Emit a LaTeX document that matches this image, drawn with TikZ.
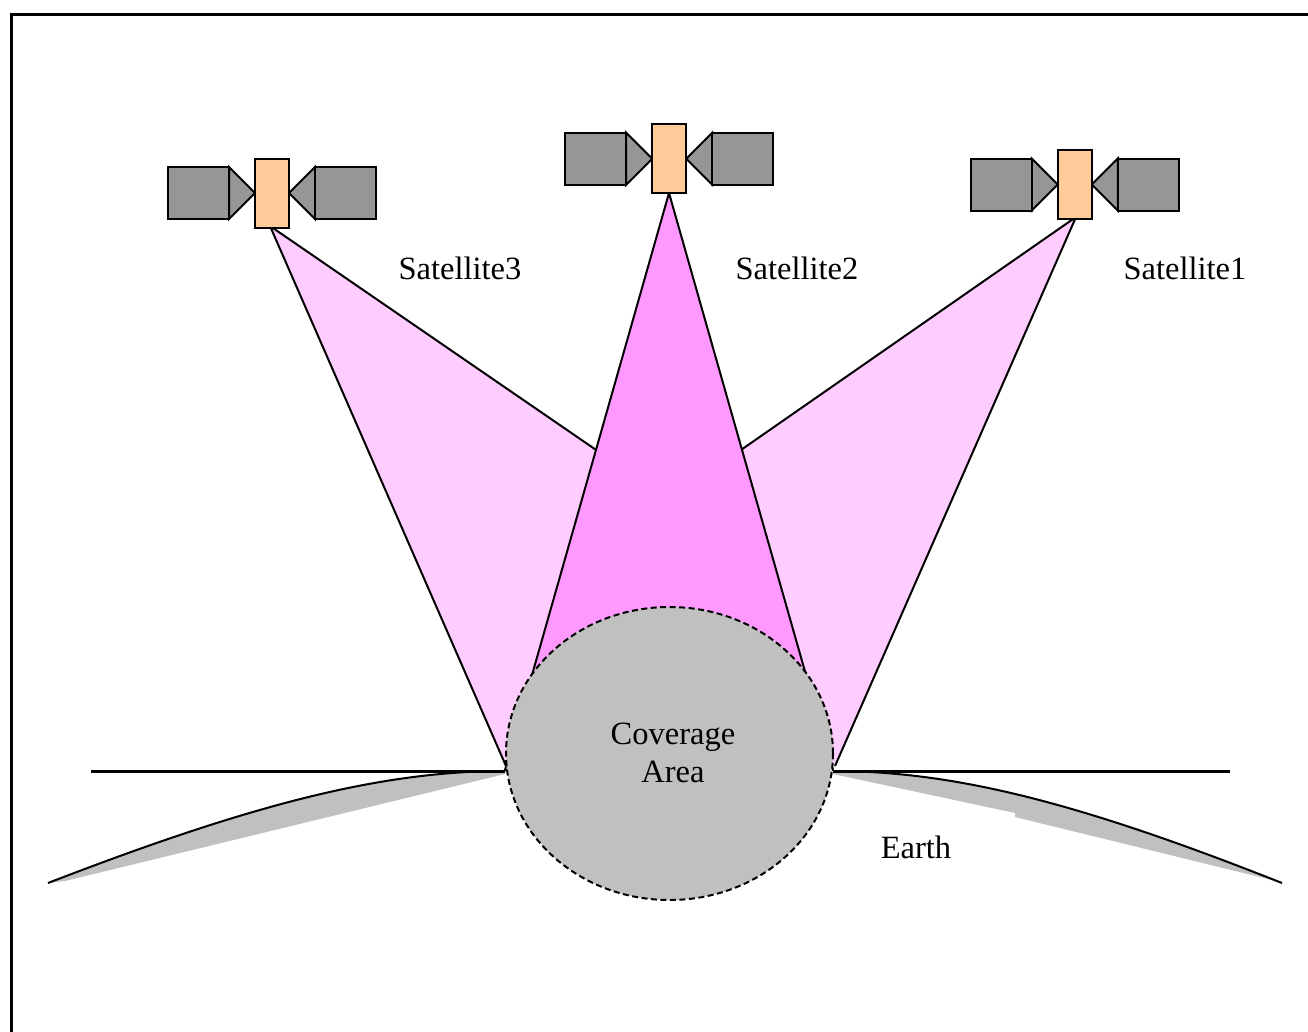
\documentclass[tikz,border=0pt]{standalone}
\usepackage{fontspec}
\setmainfont{Liberation Serif}
\usetikzlibrary{shapes.geometric}
\definecolor{beamlight}{HTML}{FFCCFF}
\definecolor{beammid}{HTML}{FF99FF}
\definecolor{busorange}{HTML}{FFCC99}
\definecolor{panelgray}{HTML}{969696}
\definecolor{groundgray}{HTML}{C0C0C0}

% one satellite: two solar panels with their mounts and the bus in the middle
\newcommand\drawsat[2]{%
  \coordinate (#1c) at #2;
  \draw[panel] ([shift={(-17,0)}]#1c) -- ++(-26,-26) -- ++(0,52) -- cycle;
  \draw[panel] ([shift={(-43,-26)}]#1c) rectangle ++(-61,52);
  \draw[panel] ([shift={(17,0)}]#1c) -- ++(26,-26) -- ++(0,52) -- cycle;
  \draw[panel] ([shift={(43,-26)}]#1c) rectangle ++(61,52);
  \node[bus] (#1) at (#1c) {};
}

\begin{document}
\begin{tikzpicture}[x=1pt,y=-1pt,
  outline/.style={draw=black,line width=2pt,line join=miter},
  bus/.style={outline,fill=busorange,minimum width=34pt,minimum height=69pt,inner sep=0pt},
  panel/.style={outline,fill=panelgray},
  beamedge/.style={draw=black,line width=2pt,line join=round},
  txt/.style={font=\fontsize{32.5}{38}\selectfont,inner sep=0pt},
  horizon/.style={draw=black,line width=3pt},
  curve/.style={draw=black,line width=2pt},
  ]
\useasboundingbox (0,0) rectangle (1308,1031);

% outer frame
\draw[line width=3.5pt] (11.3,14.7) rectangle (1340,1060);

% beam geometry
\coordinate (a3) at (270,226);
\coordinate (a2) at (669,193);
\coordinate (a1) at (1076,217);
\coordinate (l3) at (506,766);
\coordinate (r1) at (835,766);
\coordinate (m)  at (669,500);
\coordinate (l2) at (505,770);
\coordinate (r2) at (833,770);

% side beams
\fill[beamlight] (a3) -- (l3) -- (m) -- cycle;
\draw[beamedge] (l3) -- (a3) -- (m);
\fill[beamlight] (a1) -- (r1) -- (m) -- cycle;
\draw[beamedge] (r1) -- (a1) -- (m);
% central beam
\filldraw[fill=beammid,beamedge] (a2) -- (l2) -- (r2) -- cycle;

% earth surface, left
\coordinate (el0) at (48,883);
\coordinate (el1) at (505,771);
\fill[groundgray] (el0) .. controls (250,805) and (380,771) .. (el1) -- (505,774) -- (65,881) -- cycle;
\draw[curve] (el0) .. controls (250,805) and (380,771) .. (el1);
\coordinate (hl) at (91,771);
\draw[horizon] (hl) -- (el1);

% earth surface, right
\coordinate (er0) at (833,771);
\coordinate (er1) at (1282,883);
\fill[groundgray] (er0) .. controls (958,771) and (1085,805) .. (er1) -- (1272,880) -- (1015,817) -- (1015,813) -- (833,774) -- cycle;
\draw[curve] (er0) .. controls (958,771) and (1085,805) .. (er1);
\coordinate (hr) at (1230,771);
\draw[horizon] (er0) -- (hr);

% coverage area
\node[ellipse,draw=black,line width=2pt,dash pattern=on 6pt off 3.5pt,fill=groundgray,
      minimum width=327pt,minimum height=293pt,inner sep=0pt] (cov) at (669.5,753.5) {};
\node[txt,align=center] (covtext) at (673,753) {Coverage\\Area};

% satellites
\drawsat{s3}{(272,193)}
\drawsat{s2}{(669.2,158.7)}
\drawsat{s1}{(1074.8,184.5)}

% labels
\node[txt] (t3) at (460,268) {Satellite3};
\node[txt] (t2) at (797,268) {Satellite2};
\node[txt] (t1) at (1185,268) {Satellite1};
\node[txt] (te) at (916,847) {Earth};
\end{tikzpicture}
\end{document}
